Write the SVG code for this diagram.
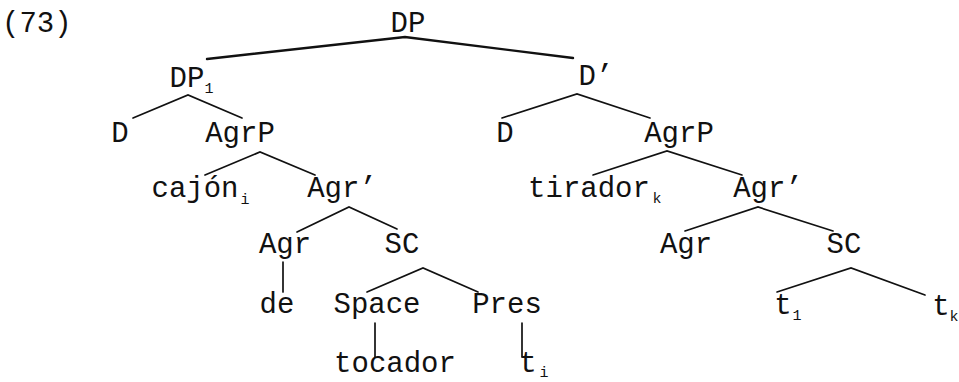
<svg xmlns="http://www.w3.org/2000/svg" width="959" height="382" viewBox="0 0 959 382">
<style>
text{font-family:"Liberation Mono","Courier New",monospace;font-size:29px;fill:#111;text-anchor:middle}
.s{font-size:15px}
.e{stroke:#111;stroke-width:1.7;fill:none;stroke-linecap:round}
.t{stroke-width:2.4}
</style>
<rect width="959" height="382" fill="#fff"/>
<text x="2" y="32" style="text-anchor:start">(73)</text>
<g id="n-DP"><text x="408" y="32">DP</text></g>
<g id="n-DP1"><text x="187" y="87">DP<tspan class="s" x="209" y="93">1</tspan></text></g>
<g id="n-Dbar"><text x="596" y="85">D’</text></g>
<g id="n-D1"><text x="120" y="142">D</text></g>
<g id="n-AgrP1"><text x="240" y="142">AgrP</text></g>
<g id="n-D2"><text x="505" y="142">D</text></g>
<g id="n-AgrP2"><text x="679" y="142">AgrP</text></g>
<g id="n-cajon"><text x="195" y="197">cajón<tspan class="s" x="245" y="204">i</tspan></text></g>
<g id="n-Agrbar1"><text x="342" y="197">Agr’</text></g>
<g id="n-tirador"><text x="589" y="197">tirador<tspan class="s" x="657" y="203">k</tspan></text></g>
<g id="n-Agrbar2"><text x="768" y="197">Agr’</text></g>
<g id="n-Agr1"><text x="285" y="253">Agr</text></g>
<g id="n-SC1"><text x="402" y="253">SC</text></g>
<g id="n-Agr2"><text x="686" y="253">Agr</text></g>
<g id="n-SC2"><text x="844" y="253">SC</text></g>
<g id="n-de"><text x="277" y="313">de</text></g>
<g id="n-Space"><text x="377" y="313">Space</text></g>
<g id="n-Pres"><text x="507" y="313">Pres</text></g>
<g id="n-t1"><text x="783" y="314">t<tspan class="s" x="797" y="320">1</tspan></text></g>
<g id="n-tk"><text x="941" y="315">t<tspan class="s" x="954" y="321">k</tspan></text></g>
<g id="n-tocador"><text x="395" y="372">tocador</text></g>
<g id="n-ti"><text x="528" y="372">t<tspan class="s" x="544" y="377">i</tspan></text></g>
<g id="edges" class="e">
<path class="e t" d="M207 59L405 37L573 58"/>
<path class="e" d="M133 118L188 95L242 118"/>
<path class="e" d="M205 175L260 152L315 175"/>
<path class="e" d="M297 232L349 207L397 229"/>
<path class="e" d="M283 262V292"/>
<path class="e" d="M367 292L423 268L478 292"/>
<path class="e" d="M375 323V357"/>
<path class="e" d="M522 323V357"/>
<path class="e" d="M502 118L577 94L650 118"/>
<path class="e" d="M593 175L667 151L742 175"/>
<path class="e" d="M685 231L758 207L833 231"/>
<path class="e" d="M777 292L851 268L925 295"/>
</g>
</svg>
